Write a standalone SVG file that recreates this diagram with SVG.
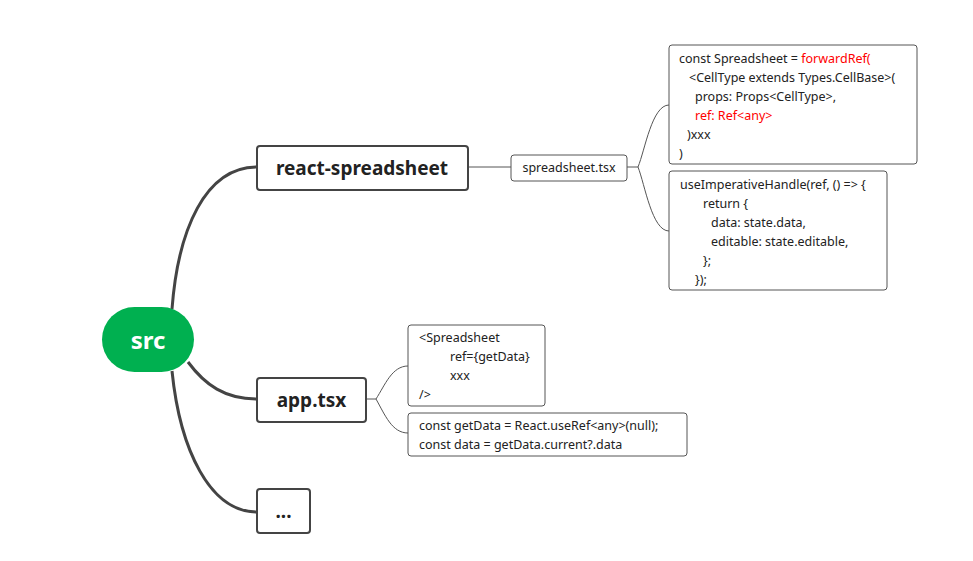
<svg xmlns="http://www.w3.org/2000/svg" width="973" height="561" viewBox="0 0 973 561">
<style>
.main{fill:#fff;stroke:#444;stroke-width:2}
.sub{fill:#fff;stroke:#555;stroke-width:1}
.t1{font-family:"Noto Sans","Open Sans",sans-serif;font-weight:bold;font-size:19px;fill:#222;text-anchor:middle}
.code{font-family:"Noto Sans","Open Sans",sans-serif;font-size:12.5px;fill:#222}
.red{fill:#f00}
.c1{fill:none;stroke:#444;stroke-width:3}
.c2{fill:none;stroke:#555;stroke-width:1}
</style>
<rect width="973" height="561" fill="#fff"/>
<g id="connectors">
<path class="c1" d="M172,309 C178,230 205,167 257,167"/>
<path class="c1" d="M188,362 C205,385 225,399 257,399"/>
<path class="c1" d="M172,371 C180,450 210,512 257,512"/>
<path class="c2" d="M468,167 H511"/>
<path class="c2" d="M627,167 H638"/>
<path class="c2" d="M638,167 C645,150 652,105 669,105"/>
<path class="c2" d="M638,167 C645,185 652,231 669,231"/>
<path class="c2" d="M366,399 H376"/>
<path class="c2" d="M376,399 C385,385 392,366 408,366"/>
<path class="c2" d="M376,399 C385,415 392,433 408,433"/>
</g>
<g id="src">
<rect x="102" y="307" width="92" height="65" rx="32.5" fill="#00b050"/>
<text x="148" y="349" font-family="Noto Sans,Open Sans,sans-serif" font-weight="bold" font-size="24" fill="#fff" text-anchor="middle">src</text>
</g>
<g id="react-spreadsheet">
<rect class="main" x="257" y="146" width="211" height="44" rx="3"/>
<text class="t1" x="362" y="175">react-spreadsheet</text>
</g>
<g id="app">
<rect class="main" x="257" y="378" width="109" height="44" rx="3"/>
<text class="t1" x="311.5" y="407">app.tsx</text>
</g>
<g id="more">
<rect class="main" x="257" y="489" width="53" height="44" rx="3"/>
<text class="t1" x="283.5" y="518">...</text>
</g>
<g id="spreadsheet-tsx">
<rect class="sub" x="511" y="155" width="116" height="26" rx="3"/>
<text class="code" x="569" y="172" text-anchor="middle" font-size="13">spreadsheet.tsx</text>
</g>
<g id="forwardref">
<rect class="sub" x="669" y="45" width="248" height="119" rx="3"/>
<text class="code" x="679" y="63">const Spreadsheet = <tspan class="red">forwardRef(</tspan></text>
<text class="code" x="689" y="82">&lt;CellType extends Types.CellBase&gt;(</text>
<text class="code" x="695" y="101">props: Props&lt;CellType&gt;,</text>
<text class="code red" x="695" y="120">ref: Ref&lt;any&gt;</text>
<text class="code" x="687" y="139">)xxx</text>
<text class="code" x="679" y="158">)</text>
</g>
<g id="imperative">
<rect class="sub" x="669" y="171" width="218" height="119" rx="3"/>
<text class="code" x="680" y="189">useImperativeHandle(ref, () =&gt; {</text>
<text class="code" x="703" y="208">return {</text>
<text class="code" x="711" y="227">data: state.data,</text>
<text class="code" x="711" y="246">editable: state.editable,</text>
<text class="code" x="703" y="265">};</text>
<text class="code" x="695" y="284">});</text>
</g>
<g id="jsx">
<rect class="sub" x="408" y="325" width="137" height="81" rx="3"/>
<text class="code" x="419" y="342">&lt;Spreadsheet</text>
<text class="code" x="450" y="361">ref={getData}</text>
<text class="code" x="450" y="380">xxx</text>
<text class="code" x="419" y="399">/&gt;</text>
</g>
<g id="useref">
<rect class="sub" x="408" y="413" width="279" height="43" rx="3"/>
<text class="code" x="419" y="430">const getData = React.useRef&lt;any&gt;(null);</text>
<text class="code" x="419" y="449">const data = getData.current?.data</text>
</g>
</svg>
